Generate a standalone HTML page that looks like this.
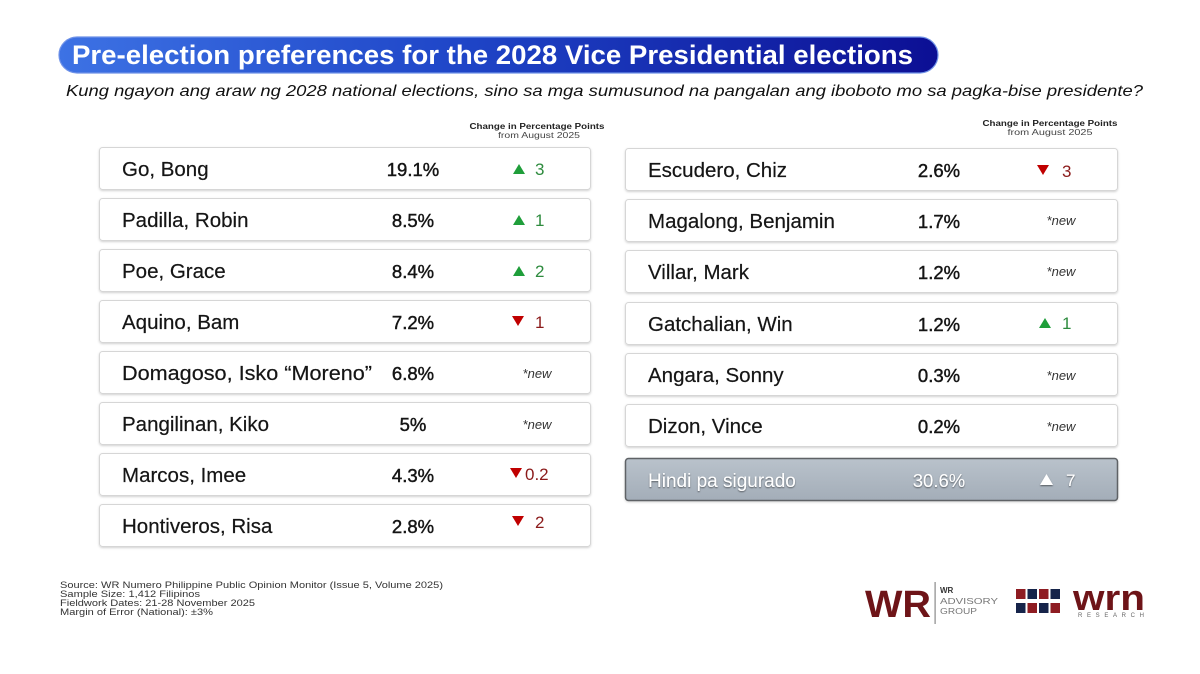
<!DOCTYPE html>
<html><head><meta charset="utf-8"><style>
html,body{margin:0;padding:0;background:#fff;}
svg{display:block;}
text{font-family:"Liberation Sans",Arial,sans-serif;}
</style></head><body>
<svg width="1200" height="674" viewBox="0 0 1200 674" xmlns="http://www.w3.org/2000/svg">
<defs>
<linearGradient id="pill" x1="0" y1="0" x2="1" y2="0">
<stop offset="0" stop-color="#3d72e4"/>
<stop offset="0.45" stop-color="#1f46c8"/>
<stop offset="1" stop-color="#0c0f94"/>
</linearGradient>
<linearGradient id="gray" x1="0" y1="0" x2="0" y2="1">
<stop offset="0" stop-color="#b9c2cb"/>
<stop offset="1" stop-color="#a3adb8"/>
</linearGradient>
<filter id="sh" x="-5%" y="-20%" width="110%" height="150%">
<feDropShadow dx="0" dy="1" stdDeviation="1" flood-color="#000" flood-opacity="0.18"/>
</filter>
<filter id="tsh"><feDropShadow dx="0" dy="1" stdDeviation="0.8" flood-color="#000" flood-opacity="0.5"/></filter>
</defs>
<rect width="1200" height="674" fill="#fff"/>

<!-- title pill -->
<rect x="59" y="37" width="879" height="36" rx="18" fill="url(#pill)" stroke="#6f92e8" stroke-width="1.2"/>
<text x="72" y="64" font-size="26.5" font-weight="bold" fill="#fff" textLength="841" lengthAdjust="spacingAndGlyphs">Pre-election preferences for the 2028 Vice Presidential elections</text>
<text x="66" y="96" font-size="16" font-style="italic" fill="#111" textLength="1077" lengthAdjust="spacingAndGlyphs">Kung ngayon ang araw ng 2028 national elections, sino sa mga sumusunod na pangalan ang iboboto mo sa pagka-bise presidente?</text>

<!-- headers -->
<text x="537" y="129" font-size="8" font-weight="bold" fill="#222" text-anchor="middle" textLength="135" lengthAdjust="spacingAndGlyphs">Change in Percentage Points</text>
<text x="539" y="138" font-size="8" fill="#444" text-anchor="middle" textLength="82" lengthAdjust="spacingAndGlyphs">from August 2025</text>
<text x="1050" y="126" font-size="8" font-weight="bold" fill="#222" text-anchor="middle" textLength="135" lengthAdjust="spacingAndGlyphs">Change in Percentage Points</text>
<text x="1050" y="135" font-size="8" fill="#444" text-anchor="middle" textLength="85" lengthAdjust="spacingAndGlyphs">from August 2025</text>

<!-- boxes -->
<g fill="#fff" stroke="#d6d6d6" stroke-width="1" filter="url(#sh)">
<rect x="99.5" y="147.5" width="491" height="42" rx="3"/>
<rect x="99.5" y="198.5" width="491" height="42" rx="3"/>
<rect x="99.5" y="249.5" width="491" height="42" rx="3"/>
<rect x="99.5" y="300.5" width="491" height="42" rx="3"/>
<rect x="99.5" y="351.5" width="491" height="42" rx="3"/>
<rect x="99.5" y="402.5" width="491" height="42" rx="3"/>
<rect x="99.5" y="453.5" width="491" height="42" rx="3"/>
<rect x="99.5" y="504.5" width="491" height="42" rx="3"/>
<rect x="625.5" y="148.5" width="492" height="42" rx="3"/>
<rect x="625.5" y="199.5" width="492" height="42" rx="3"/>
<rect x="625.5" y="250.5" width="492" height="42" rx="3"/>
<rect x="625.5" y="302.5" width="492" height="42" rx="3"/>
<rect x="625.5" y="353.5" width="492" height="42" rx="3"/>
<rect x="625.5" y="404.5" width="492" height="42" rx="3"/>
</g>
<rect x="625.5" y="458.5" width="492" height="42" rx="3" fill="url(#gray)" stroke="#5e6266" stroke-width="1.5" filter="url(#sh)"/>

<!-- left names -->
<g font-size="20.5" fill="#151515" stroke="#151515" stroke-width="0.2">
<text x="122" y="176">Go, Bong</text>
<text x="122" y="227">Padilla, Robin</text>
<text x="122" y="278">Poe, Grace</text>
<text x="122" y="329">Aquino, Bam</text>
<text x="122" y="380" textLength="250" lengthAdjust="spacingAndGlyphs">Domagoso, Isko “Moreno”</text>
<text x="122" y="431">Pangilinan, Kiko</text>
<text x="122" y="482">Marcos, Imee</text>
<text x="122" y="533">Hontiveros, Risa</text>
</g>
<g font-size="18.5" fill="#151515" stroke="#151515" stroke-width="0.45" text-anchor="middle">
<text x="413" y="176">19.1%</text>
<text x="413" y="227">8.5%</text>
<text x="413" y="278">8.4%</text>
<text x="413" y="329">7.2%</text>
<text x="413" y="380">6.8%</text>
<text x="413" y="431">5%</text>
<text x="413" y="482">4.3%</text>
<text x="413" y="533">2.8%</text>
</g>

<!-- left changes -->
<polygon points="513,174 525,174 519,164" fill="#1f9e3a"/>
<text x="535" y="175" font-size="17" fill="#2e8b3e">3</text>
<polygon points="513,225 525,225 519,215" fill="#1f9e3a"/>
<text x="535" y="226" font-size="17" fill="#2e8b3e">1</text>
<polygon points="513,276 525,276 519,266" fill="#1f9e3a"/>
<text x="535" y="277" font-size="17" fill="#2e8b3e">2</text>
<polygon points="512,316 524,316 518,326" fill="#c00000"/>
<text x="535" y="328" font-size="17" fill="#8b1a1a">1</text>
<text x="537" y="378" font-size="13" font-style="italic" fill="#333" text-anchor="middle">*new</text>
<text x="537" y="429" font-size="13" font-style="italic" fill="#333" text-anchor="middle">*new</text>
<polygon points="510,468 522,468 516,478" fill="#c00000"/>
<text x="525" y="480" font-size="17" fill="#8b1a1a">0.2</text>
<polygon points="512,516 524,516 518,526" fill="#c00000"/>
<text x="535" y="528" font-size="17" fill="#8b1a1a">2</text>

<!-- right names -->
<g font-size="20.5" fill="#151515" stroke="#151515" stroke-width="0.2">
<text x="648" y="177">Escudero, Chiz</text>
<text x="648" y="228">Magalong, Benjamin</text>
<text x="648" y="279">Villar, Mark</text>
<text x="648" y="331">Gatchalian, Win</text>
<text x="648" y="382">Angara, Sonny</text>
<text x="648" y="433">Dizon, Vince</text>
</g>
<g font-size="18.5" fill="#151515" stroke="#151515" stroke-width="0.45" text-anchor="middle">
<text x="939" y="177">2.6%</text>
<text x="939" y="228">1.7%</text>
<text x="939" y="279">1.2%</text>
<text x="939" y="331">1.2%</text>
<text x="939" y="382">0.3%</text>
<text x="939" y="433">0.2%</text>
</g>
<polygon points="1037,165 1049,165 1043,175" fill="#c00000"/>
<text x="1062" y="177" font-size="17" fill="#8b1a1a">3</text>
<text x="1061" y="225" font-size="13" font-style="italic" fill="#333" text-anchor="middle">*new</text>
<text x="1061" y="276" font-size="13" font-style="italic" fill="#333" text-anchor="middle">*new</text>
<polygon points="1039,328 1051,328 1045,318" fill="#1f9e3a"/>
<text x="1062" y="329" font-size="17" fill="#2e8b3e">1</text>
<text x="1061" y="380" font-size="13" font-style="italic" fill="#333" text-anchor="middle">*new</text>
<text x="1061" y="431" font-size="13" font-style="italic" fill="#333" text-anchor="middle">*new</text>

<!-- gray row -->
<g fill="#fff" filter="url(#tsh)">
<text x="648" y="487" font-size="19">Hindi pa sigurado</text>
<text x="939" y="487" font-size="18.5" text-anchor="middle">30.6%</text>
<polygon points="1040,485 1053,485 1046.5,474"/>
<text x="1066" y="486" font-size="17">7</text>
</g>

<!-- footer -->
<g font-size="9.5" fill="#333">
<text x="60" y="588" textLength="383" lengthAdjust="spacingAndGlyphs">Source: WR Numero Philippine Public Opinion Monitor (Issue 5, Volume 2025)</text>
<text x="60" y="597" textLength="140" lengthAdjust="spacingAndGlyphs">Sample Size: 1,412 Filipinos</text>
<text x="60" y="606" textLength="195" lengthAdjust="spacingAndGlyphs">Fieldwork Dates: 21-28 November 2025</text>
<text x="60" y="615" textLength="153" lengthAdjust="spacingAndGlyphs">Margin of Error (National): ±3%</text>
</g>

<!-- WR logo -->
<text x="865" y="617" font-size="38" font-weight="bold" fill="#6e1418" textLength="66" lengthAdjust="spacingAndGlyphs">WR</text>
<rect x="934.5" y="582" width="1.2" height="42" fill="#8a8a8a"/>
<text x="940" y="593" font-size="8" font-weight="bold" fill="#333">WR</text>
<text x="940" y="604" font-size="8" fill="#777" textLength="58" lengthAdjust="spacingAndGlyphs">ADVISORY</text>
<text x="940" y="614" font-size="8" fill="#777" textLength="37" lengthAdjust="spacingAndGlyphs">GROUP</text>

<!-- wrn logo -->
<g>
<rect x="1016" y="589" width="9.5" height="10" fill="#8e1c22"/>
<rect x="1027.5" y="589" width="9.5" height="10" fill="#16244a"/>
<rect x="1039" y="589" width="9.5" height="10" fill="#8e1c22"/>
<rect x="1050.5" y="589" width="9.5" height="10" fill="#16244a"/>
<rect x="1016" y="603" width="9.5" height="10" fill="#16244a"/>
<rect x="1027.5" y="603" width="9.5" height="10" fill="#8e1c22"/>
<rect x="1039" y="603" width="9.5" height="10" fill="#16244a"/>
<rect x="1050.5" y="603" width="9.5" height="10" fill="#8e1c22"/>
</g>
<text x="1073" y="610" font-size="36" font-weight="bold" fill="#6e1418" textLength="72" lengthAdjust="spacingAndGlyphs">wrn</text>
<text x="1078" y="617" font-size="6" fill="#666" textLength="66" lengthAdjust="spacing">RESEARCH</text>
</svg>
</body></html>
